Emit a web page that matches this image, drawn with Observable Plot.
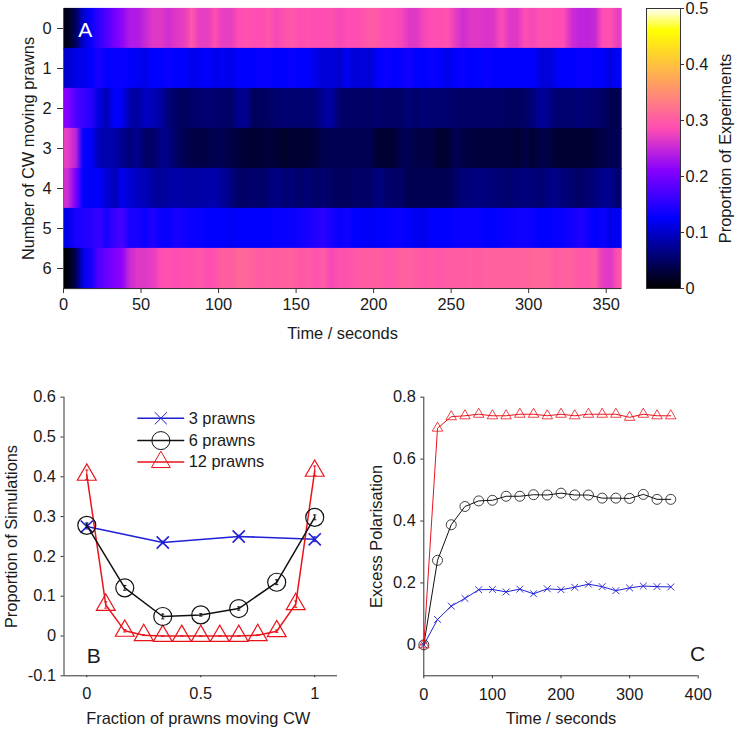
<!DOCTYPE html>
<html>
<head>
<meta charset="utf-8">
<script src="https://cdn.jsdelivr.net/npm/d3@7"></script>
<script src="https://cdn.jsdelivr.net/npm/@observablehq/plot@0.6"></script>
<style>
html,body{margin:0;padding:0;background:#fff}
#root{position:relative;width:739px;height:731px;overflow:hidden}
#root svg{position:absolute;display:block;overflow:visible}
</style>
</head>
<body>
<div id="root"></div>
<script>
// Panel A: proportion of experiments, one value per 5-second bin
const row0 = [.012,.045,.10,.13,.155,.175,.195,.215,.235,.235,.25,.265,.265,.255,.265,.27,.295,.27,.27,.285,.27,.27,.285,.29,
  .285,.285,.295,.28,.29,.295,.285,.29,.285,.285,.29,.28,.285,.285,.29,.30,.295,.285,.285,.28,.265,.265,.28,.285,
  .285,.29,.27,.255,.265,.265,.26,.265,.285,.265,.265,.285,.28,.29,.29,.285,.285,.255,.245,.245,.25,.285,.29,.27];
const row1 = [.10,.115,.115,.125,.14,.125,.13,.13,.125,.12,.115,.125,.125,.13,.125,.125,.115,.12,.125,.115,.12,.115,.125,.125,
  .125,.13,.13,.125,.125,.13,.125,.125,.115,.105,.11,.10,.12,.105,.11,.105,.125,.13,.125,.13,.135,.125,.125,.13,
  .125,.115,.125,.13,.125,.125,.13,.125,.125,.125,.125,.125,.125,.11,.105,.12,.125,.125,.13,.13,.125,.125,.11,.125];
const row2 = [.21,.175,.16,.15,.11,.09,.125,.12,.085,.08,.095,.09,.08,.06,.05,.045,.05,.055,.055,.055,.05,.05,.07,.07,
  .045,.045,.05,.055,.055,.055,.055,.055,.06,.075,.08,.055,.05,.05,.05,.05,.055,.05,.05,.05,.06,.05,.06,.055,
  .055,.055,.05,.05,.05,.05,.05,.05,.05,.045,.045,.05,.06,.075,.07,.055,.055,.055,.06,.055,.055,.05,.04,.04];
const row3 = [.27,.245,.13,.125,.09,.085,.085,.07,.06,.07,.05,.05,.065,.065,.05,.04,.035,.035,.035,.04,.04,.035,.03,.025,
  .025,.025,.03,.025,.02,.025,.025,.025,.03,.04,.04,.04,.04,.04,.04,.04,.025,.025,.025,.04,.04,.035,.035,.035,
  .02,.025,.04,.035,.03,.03,.03,.03,.03,.03,.025,.035,.025,.035,.035,.025,.025,.025,.025,.025,.03,.035,.04,.04];
const row4 = [.255,.205,.125,.12,.125,.105,.09,.115,.105,.095,.09,.08,.075,.08,.085,.08,.08,.08,.085,.085,.075,.065,.05,.05,
  .055,.05,.06,.065,.055,.06,.05,.06,.05,.055,.05,.045,.045,.05,.05,.05,.065,.055,.05,.05,.04,.04,.04,.04,
  .04,.04,.05,.06,.06,.065,.06,.06,.055,.055,.06,.06,.06,.055,.065,.065,.06,.055,.05,.055,.06,.07,.07,.055];
const row5 = [.115,.14,.145,.15,.16,.14,.16,.17,.14,.14,.13,.145,.13,.13,.14,.135,.13,.13,.125,.125,.125,.12,.125,.125,
  .125,.125,.125,.13,.13,.13,.135,.14,.145,.15,.14,.13,.135,.125,.125,.12,.125,.125,.13,.13,.125,.12,.115,.125,
  .125,.125,.13,.13,.13,.13,.125,.125,.13,.13,.135,.135,.13,.125,.125,.13,.13,.135,.145,.135,.125,.13,.115,.12];
const row6 = [.005,.04,.11,.14,.175,.19,.205,.215,.25,.265,.265,.27,.285,.29,.285,.29,.29,.295,.285,.29,.305,.3,.31,.31,
  .305,.3,.305,.3,.305,.305,.295,.3,.29,.3,.28,.29,.29,.295,.3,.3,.305,.295,.295,.305,.305,.3,.295,.3,
  .295,.3,.3,.3,.305,.3,.305,.305,.305,.305,.305,.305,.31,.31,.31,.3,.305,.305,.295,.295,.305,.27,.265,.29];
const heatRows = [row0,row1,row2,row3,row4,row5,row6];
const rowTicks = [0,1,2,3,4,5,6];
const timeTicksA = [0,50,100,150,200,250,300,350];

// Colour scale stops (colour bar)
const colorStops = [0,.125,.21,.285,.46,.5];
const colorRamp = ["#000000","#0000ff","#8700ff","#ff4db3","#ffff00","#ffffff"];
const barTicks = [0,.1,.2,.3,.4,.5];

// Panel B
const xB3 = [0,1/3,2/3,1];
const yB3 = [.275,.235,.25,.243];
const xB6 = [0,1/6,2/6,3/6,4/6,5/6,1];
const yB6 = [.278,.121,.049,.053,.069,.135,.298];
const xB12 = [0,1/12,2/12,3/12,4/12,5/12,6/12,7/12,8/12,9/12,10/12,11/12,1];
const yB12 = [.405,.078,.013,.002,0,0,0,0,0,.002,.012,.08,.415];
const errB3 = [.006,.003,.003,.006];
const errB6 = [.006,.006,.006,.003,.004,.006,.006];
const errB12 = [.012,.008,.003,.001,0,0,0,0,0,.001,.003,.008,.012];
const yTicksB = [-.1,0,.1,.2,.3,.4,.5,.6];
const xTicksB = [0,.5,1];

// Panel C
const timesC = [0,20,40,60,80,100,120,140,160,180,200,220,240,260,280,300,320,340,360];
const yC3 = [0,.082,.125,.15,.178,.179,.171,.18,.165,.181,.178,.186,.196,.188,.175,.184,.19,.188,.187];
const yC6 = [0,.273,.388,.447,.465,.467,.48,.48,.485,.484,.49,.484,.484,.474,.474,.473,.486,.47,.47];
const yC12 = [0,.70,.737,.74,.745,.74,.74,.745,.745,.74,.745,.74,.745,.745,.745,.735,.745,.74,.74];
const yTicksC = [0,.2,.4,.6,.8];
const xTicksC = [0,100,200,300,400];

// Legend of panel B
const legendNames = ["3 prawns","6 prawns","12 prawns"];
const legendY = [.547,.491,.437];

const BLUE = "#1f1fd6", RED = "#e8141c", BLACK = "#111111", AXIS = "#333333", INK = "#1a1a1a";
const FONT = "Liberation Sans, Arial, sans-serif";
const FS = 16.4;
const hyphen = {draw(c,s){const r=Math.sqrt(s/Math.PI);c.moveTo(-r,0);c.lineTo(r,0);}};
const pts = (xs,ys,es) => xs.map((x,i)=>({x,y:ys[i],e:es?es[i]:0}));
const label = d => String(+d.toFixed(1));
const baseStyle = {fontFamily:FONT,fontSize:FS+"px",color:INK,background:"transparent"};
const ax = {fontSize:FS,labelAnchor:"center",labelArrow:"none",stroke:AXIS,fill:INK};

function place(svg,left,top){svg.style.left=left+"px";svg.style.top=top+"px";document.getElementById("root").appendChild(svg);}

// ---------- Panel A ----------
const colorOpts = {type:"linear",domain:colorStops,range:colorRamp,clamp:true};
place(Plot.plot({
  width:640,height:345,marginLeft:63,marginRight:18.8,marginTop:8,marginBottom:57,
  style:baseStyle,
  x:{domain:[0,360]},
  y:{domain:[6.5,-.5]},
  color:colorOpts,
  marks:[
    ...heatRows.map((r,k)=>Plot.raster(r,{width:r.length,height:1,x1:0,x2:360,y1:k-.515,y2:k+.515,fill:d=>d})),
    Plot.ruleY([6.5],{stroke:AXIS}),
    Plot.ruleX([0],{stroke:AXIS,strokeOpacity:.6}),
    Plot.axisX({...ax,ticks:timeTicksA,tickFormat:String,tickSize:5,tickPadding:5,label:"Time / seconds",labelOffset:50}),
    Plot.axisY({...ax,ticks:rowTicks,tickFormat:String,tickSize:6,tickPadding:6,label:"Number of CW moving prawns",labelOffset:41}),
    Plot.text(["A"],{x:[14],y:[.05],text:d=>d,fill:"white",fontSize:21})
  ]
}),0,0);

// ---------- Colour bar ----------
const barSteps = d3.range(0,.5,.002);
place(Plot.plot({
  width:99,height:320,marginLeft:6,marginRight:59,marginTop:8,marginBottom:32,
  style:baseStyle,
  x:{domain:[0,1],axis:null},
  y:{domain:[0,.5]},
  color:colorOpts,
  marks:[
    Plot.rect(barSteps,{x1:0,x2:1,y1:d=>d,y2:d=>d+.002,fill:d=>d+.001,shapeRendering:"crispEdges"}),
    Plot.frame({stroke:AXIS}),
    Plot.axisY({...ax,anchor:"right",ticks:barTicks,tickFormat:label,tickSize:3,tickPadding:2,label:"Proportion of Experiments",labelOffset:50})
  ]
}),640,0);

// ---------- Panel B ----------
const sB3=pts(xB3,yB3,errB3), sB6=pts(xB6,yB6,errB6), sB12=pts(xB12,yB12,errB12);
const errMarks = (s,col) => [
  Plot.ruleX(s,{x:"x",y1:d=>d.y-d.e,y2:d=>d.y+d.e,stroke:col,strokeWidth:1}),
  Plot.dot(s,{x:"x",y:d=>d.y-d.e,symbol:hyphen,r:1.6,stroke:col,strokeWidth:1}),
  Plot.dot(s,{x:"x",y:d=>d.y+d.e,symbol:hyphen,r:1.6,stroke:col,strokeWidth:1})
];
const legendLine = (i,col) => Plot.line([.224,.425],{x:d=>d,y:()=>legendY[i],stroke:col,strokeWidth:1.5});
place(Plot.plot({
  width:350,height:381,marginLeft:63.5,marginRight:13,marginTop:46.7,marginBottom:55.7,
  style:baseStyle,
  x:{domain:[-.1,1.1]},
  y:{domain:[-.1,.6]},
  marks:[
    Plot.ruleX([-.1],{stroke:AXIS}),
    Plot.ruleY([-.1],{stroke:AXIS}),
    Plot.axisX({...ax,ticks:xTicksB,tickFormat:label,tickSize:2,tickPadding:10,label:null}),
    Plot.text(["Fraction of prawns moving CW"],{frameAnchor:"bottom",dx:-2.5,dy:48,text:d=>d,fontSize:FS,fill:INK}),
    Plot.axisY({...ax,ticks:yTicksB,tickFormat:label,tickSize:3,tickPadding:5,label:"Proportion of Simulations",labelOffset:59}),
    Plot.line(sB3,{x:"x",y:"y",stroke:BLUE,strokeWidth:1.6}),
    Plot.dot(sB3,{x:"x",y:"y",symbol:"times",r:5.6,stroke:BLUE,strokeWidth:1.6}),
    ...errMarks(sB3,BLUE),
    Plot.line(sB12,{x:"x",y:"y",stroke:RED,strokeWidth:1.5}),
    Plot.dot(sB12,{x:"x",y:"y",symbol:"triangle",r:7,stroke:RED,strokeWidth:1.2,fill:"none"}),
    ...errMarks(sB12,RED),
    Plot.line(sB6,{x:"x",y:"y",stroke:BLACK,strokeWidth:1.5}),
    Plot.dot(sB6,{x:"x",y:"y",r:9,stroke:BLACK,strokeWidth:1.2,fill:"none"}),
    ...errMarks(sB6,BLACK),
    legendLine(0,BLUE),legendLine(1,BLACK),legendLine(2,RED),
    Plot.dot([0],{x:()=>.325,y:()=>legendY[0],symbol:"times",r:5.6,stroke:BLUE,strokeWidth:1}),
    Plot.dot([1],{x:()=>.325,y:()=>legendY[1],r:9,stroke:BLACK,strokeWidth:1,fill:"none"}),
    Plot.dot([2],{x:()=>.325,y:()=>legendY[2],symbol:"triangle",r:7,stroke:RED,strokeWidth:1,fill:"none"}),
    Plot.text(legendNames,{x:()=>.447,y:(d,i)=>legendY[i],text:d=>d,textAnchor:"start",fontSize:FS,fill:INK}),
    Plot.text(["B"],{x:[.03],y:[-.05],text:d=>d,fontSize:21,fill:INK})
  ]
}),0,350);

// ---------- Panel C ----------
const sC3=pts(timesC,yC3), sC6=pts(timesC,yC6), sC12=pts(timesC,yC12);
place(Plot.plot({
  width:379,height:381,marginLeft:63.3,marginRight:41.3,marginTop:46.7,marginBottom:55.7,
  style:baseStyle,
  x:{domain:[0,400]},
  y:{domain:[-.1,.8]},
  marks:[
    Plot.ruleX([0],{stroke:AXIS}),
    Plot.ruleY([-.1],{stroke:AXIS}),
    Plot.axisX({...ax,ticks:xTicksC,tickFormat:String,tickSize:3,tickPadding:10,label:"Time / seconds",labelOffset:48}),
    Plot.axisY({...ax,ticks:yTicksC,tickFormat:label,tickSize:3,tickPadding:5,label:"Excess Polarisation",labelOffset:53}),
    Plot.line(sC3,{x:"x",y:"y",stroke:BLUE,strokeWidth:1}),
    Plot.dot(sC3,{x:"x",y:"y",symbol:"times",r:3.2,stroke:BLUE,strokeWidth:.9}),
    Plot.line(sC6,{x:"x",y:"y",stroke:BLACK,strokeWidth:1}),
    Plot.dot(sC6,{x:"x",y:"y",r:5,stroke:BLACK,strokeWidth:.8,fill:"none"}),
    Plot.line(sC12,{x:"x",y:"y",stroke:RED,strokeWidth:1}),
    Plot.dot(sC12,{x:"x",y:"y",symbol:"triangle",r:3.9,stroke:RED,strokeWidth:.8,fill:"none"}),
    Plot.text(["C"],{x:[399],y:[-.03],text:d=>d,fontSize:21,fill:INK})
  ]
}),360,350);
</script>
</body>
</html>
